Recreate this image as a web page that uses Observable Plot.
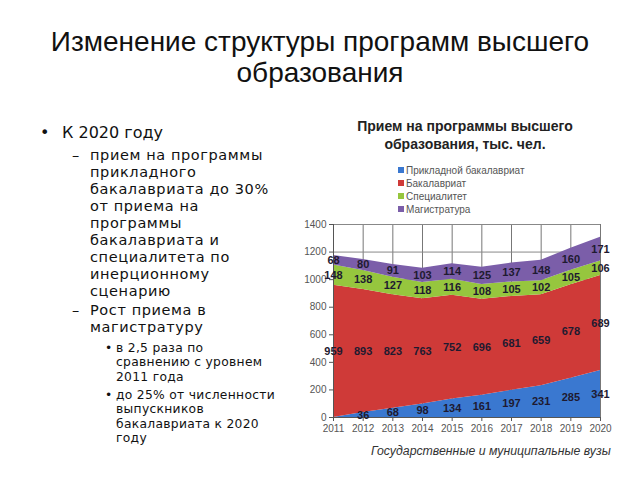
<!DOCTYPE html>
<html><head><meta charset="utf-8">
<script src="https://cdn.jsdelivr.net/npm/d3@7"></script>
<script src="https://cdn.jsdelivr.net/npm/@observablehq/plot@0.6"></script>
<style>
body{margin:0;background:#fff;width:640px;height:480px;position:relative;overflow:hidden;font-family:"Liberation Sans",Arial,sans-serif;}
.abs{position:absolute;white-space:nowrap;}
#title{left:0;width:640px;top:26px;text-align:center;font-size:28px;line-height:31px;color:#111;}
.b{font-family:"DejaVu Sans",sans-serif;color:#111;}
.l1{font-size:16px;}
.l2{font-size:14.5px;letter-spacing:0.6px;}
.l3{font-size:12.3px;letter-spacing:0.3px;}
#ctitle{left:330px;width:270px;top:117px;text-align:center;font-weight:bold;font-size:14px;line-height:18px;color:#222;}
#caption{left:371px;top:444px;font-style:italic;font-size:12.3px;color:#333;}
.leg{font-size:10px;color:#555;left:398px;}
.leg span{display:inline-block;width:6px;height:6px;margin-right:2px;vertical-align:1px;}
#chart{position:absolute;left:290px;top:215px;}
</style></head><body>
<div id="title" class="abs">Изменение структуры программ высшего<br>образования</div>
<div id="bullets"></div>
<div id="ctitle" class="abs">Прием на программы высшего<br>образования, тыс. чел.</div>
<div id="legend"></div>
<div id="chart"></div>
<div id="caption" class="abs">Государственные и муниципальные вузы</div>
<script>
const years = [2011,2012,2013,2014,2015,2016,2017,2018,2019,2020];
const seriesNames = ["Прикладной бакалавриат","Бакалавриат","Специалитет","Магистратура"];
const appliedBachelor = [0,36,68,98,134,161,197,231,285,341];
const bachelor = [959,893,823,763,752,696,681,659,678,689];
const specialist = [148,138,127,118,116,108,105,102,105,106];
const master = [68,80,91,103,114,125,137,148,160,171];
const colors = ["#3a78d0","#cf3a38","#96c63e","#7b5ea9"];
const yTicks = [0,200,400,600,800,1000,1200,1400];

// paragraphs: [class, marker, markerX, lines, textX, firstLineCenterY, lineHeight]
const paragraphs = [
  ["l1", "•", 40, ["К 2020 году"], 62, 133, 20],
  ["l2", "–", 72, ["прием на программы","прикладного","бакалавриата до 30%","от приема на","программы","бакалавриата и","специалитета по","инерционному","сценарию"], 90, 155, 17],
  ["l2", "–", 72, ["Рост приема в","магистратуру"], 90, 310, 17],
  ["l3", "•", 105, ["в 2,5 раза по","сравнению с уровнем","2011 года"], 116, 348, 14.5],
  ["l3", "•", 105, ["до 25% от численности","выпускников","бакалавриата к 2020","году"], 116, 395, 14.4]
];
const bl = document.getElementById("bullets");
for (const [cls, mark, mx, lines, tx, cy, lh] of paragraphs) {
  const m = document.createElement("div");
  m.className = "abs b " + cls; m.textContent = mark;
  m.style.left = mx + "px"; m.style.top = (cy - lh / 2) + "px"; m.style.lineHeight = lh + "px";
  bl.appendChild(m);
  const t = document.createElement("div");
  t.className = "abs b " + cls;
  t.innerHTML = lines.join("<br>");
  t.style.left = tx + "px"; t.style.top = (cy - lh / 2) + "px"; t.style.lineHeight = lh + "px";
  bl.appendChild(t);
}

const lg = document.getElementById("legend");
const legY = [171,184,197,210];
seriesNames.forEach((s, i) => {
  const d = document.createElement("div");
  d.className = "abs leg";
  d.style.top = (legY[i] - 6) + "px";
  d.style.lineHeight = "12px";
  d.innerHTML = `<span style="background:${colors[i]}"></span>${s}`;
  lg.appendChild(d);
});

const valueArrays = [appliedBachelor, bachelor, specialist, master];
const data = [];
seriesNames.forEach((s, i) => years.forEach((y, j) => data.push({year: y, series: s, value: valueArrays[i][j]})));

const chart = Plot.plot({
  width: 340, height: 230,
  marginLeft: 43, marginRight: 30, marginTop: 9, marginBottom: 28,
  style: {fontFamily: "Liberation Sans, Arial, sans-serif", fontSize: "10px", color: "#555", background: "transparent"},
  x: {domain: [2011, 2020], ticks: years, tickFormat: d => String(d), label: null, tickSize: 4, tickPadding: 3},
  y: {domain: [0, 1400], ticks: yTicks, tickFormat: d => String(d), label: null, tickSize: 4, tickPadding: 3},
  color: {domain: seriesNames, range: colors},
  marks: [
    Plot.ruleX(years, {stroke: "#777", strokeWidth: 1}),
    Plot.ruleY(yTicks, {stroke: "#888", strokeWidth: 1}),
    Plot.areaY(data, {x: "year", y: "value", fill: "series", z: "series", order: seriesNames}),
    Plot.ruleX([2011], {stroke: "#555"}),
    Plot.ruleY([0], {stroke: "#555"}),
    Plot.text(data, Plot.stackY({x: "year", y: "value", z: "series", order: seriesNames,
      text: d => d.value ? String(d.value) : "", fill: "#1e1a30", fontWeight: "bold", fontSize: 11}))
  ]
});
document.getElementById("chart").appendChild(chart);
</script>
</body></html>
